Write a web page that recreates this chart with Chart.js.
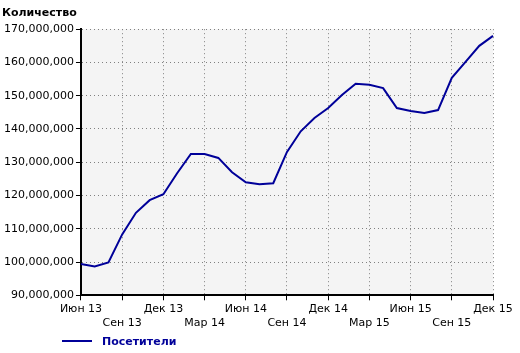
<!DOCTYPE html>
<html>
<head>
<meta charset="utf-8">
<script src="https://cdn.jsdelivr.net/npm/chart.js@4/dist/chart.umd.min.js"></script>
<style>
  html, body { margin: 0; padding: 0; background: #fff; }
  #chart { display: block; }
</style>
</head>
<body>
<canvas id="chart" width="520" height="353"></canvas>
<script>
const months = [
    'Июн 13', 'Июл 13', 'Авг 13', 'Сен 13', 'Окт 13', 'Ноя 13', 'Дек 13',
    'Янв 14', 'Фев 14', 'Мар 14', 'Апр 14', 'Май 14', 'Июн 14', 'Июл 14',
    'Авг 14', 'Сен 14', 'Окт 14', 'Ноя 14', 'Дек 14', 'Янв 15', 'Фев 15',
    'Мар 15', 'Апр 15', 'Май 15', 'Июн 15', 'Июл 15', 'Авг 15', 'Сен 15',
    'Окт 15', 'Ноя 15', 'Дек 15'
];
const visitors = [
    99400000, 98700000, 99900000, 108300000, 114800000, 118600000, 120400000,
    126700000, 132500000, 132500000, 131300000, 127000000, 124000000, 123400000,
    123700000, 133100000, 139300000, 143300000, 146300000, 150200000, 153600000,
    153300000, 152300000, 146300000, 145400000, 144800000, 145700000, 155400000,
    160200000, 165000000, 168000000
];
const seriesName = 'Посетители';
const axisTitle = 'Количество';

const lineColor = '#000099';
const font = 'DejaVu Sans';

// plot background + legend drawn by hand
const plotBg = {
    id: 'plotBg',
    beforeDraw(chart) {
        const {ctx, chartArea: a} = chart;
        ctx.save();
        ctx.fillStyle = '#f4f4f4';
        ctx.fillRect(a.left, a.top, a.right - a.left, a.bottom - a.top);
        ctx.restore();
    },
    afterDraw(chart) {
        const ctx = chart.ctx;
        const ds = chart.data.datasets[0];
        const y = 341;
        ctx.save();
        ctx.strokeStyle = ds.borderColor;
        ctx.lineWidth = 2;
        ctx.beginPath();
        ctx.moveTo(62, y);
        ctx.lineTo(92, y);
        ctx.stroke();
        ctx.fillStyle = ds.borderColor;
        ctx.font = 'bold 11px "' + font + '"';
        ctx.textBaseline = 'middle';
        ctx.fillText(ds.label, 102, y + 1);
        ctx.restore();
    }
};

new Chart(document.getElementById('chart'), {
    type: 'line',
    data: {
        labels: months,
        datasets: [{
            label: seriesName,
            data: visitors,
            borderColor: lineColor,
            borderWidth: 2,
            pointRadius: 0,
            tension: 0,
            fill: false
        }]
    },
    options: {
        responsive: false,
        animation: false,
        layout: { padding: { left: 2, right: 27, top: 0, bottom: 21 } },
        plugins: {
            legend: { display: false },
            tooltip: { enabled: false },
            title: {
                display: true,
                text: axisTitle,
                align: 'start',
                color: '#000',
                font: { family: font, size: 11, weight: 'bold' },
                padding: { top: 7, bottom: 9 }
            }
        },
        scales: {
            x: {
                offset: false,
                border: { color: '#000', width: 2, dash: [1, 3] },
                grid: {
                    color: c => c.index % 3 === 0 ? '#808080' : 'transparent',
                    tickColor: c => c.index % 3 === 0 ? '#000' : 'transparent',
                    tickLength: 5,
                    lineWidth: 1
                },
                ticks: {
                    autoSkip: false,
                    maxRotation: 0,
                    color: '#000',
                    padding: 1,
                    font: { family: font, size: 11, lineHeight: 1.35 },
                    callback: (v, i) => i % 6 === 0 ? months[i] : (i % 3 === 0 ? ['', months[i]] : '')
                }
            },
            y: {
                min: 90000000,
                max: 170000000,
                border: { color: '#000', width: 2, dash: [1, 3] },
                grid: {
                    color: '#808080',
                    tickColor: '#000',
                    tickLength: 5,
                    lineWidth: 1
                },
                ticks: {
                    stepSize: 10000000,
                    color: '#000',
                    padding: 2,
                    font: { family: font, size: 11 },
                    callback: v => v.toLocaleString('en-US')
                }
            }
        }
    },
    plugins: [plotBg]
});
</script>
</body>
</html>
